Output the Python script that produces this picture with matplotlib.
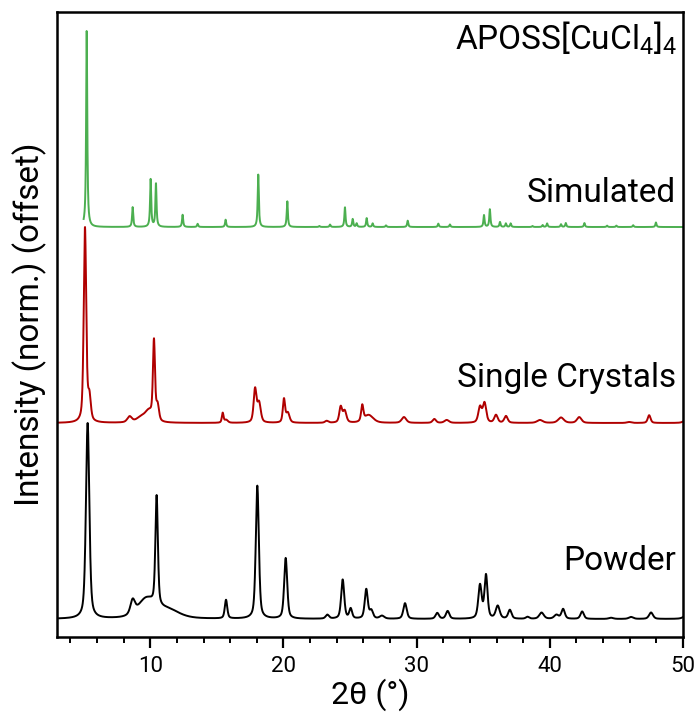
import numpy as np
import matplotlib
matplotlib.use("Agg")
import matplotlib.pyplot as plt
from matplotlib.ticker import MultipleLocator

plt.rcParams['font.family'] = ['Roboto', 'DejaVu Sans']
plt.rcParams['mathtext.default'] = 'regular'

# ---- data: peak tables (2theta, normalized height, FWHM) ----
powder_pos = [5.30, 8.68, 9.7, 10.48, 11.3, 15.69, 18.04, 20.17, 23.3, 24.45, 25.05,
              26.22, 26.6, 27.4, 29.13, 31.55, 32.33, 34.76, 35.21, 36.09, 37.0,
              38.33, 39.38, 40.5, 41.0, 42.43, 44.6, 46.1, 47.6, 50.4]
powder_h = [1.0, 0.07, 0.095, 0.56, 0.045, 0.095, 0.68, 0.31, 0.02, 0.20, 0.05,
            0.15, 0.04, 0.015, 0.08, 0.03, 0.04, 0.17, 0.22, 0.065, 0.045,
            0.01, 0.032, 0.02, 0.05, 0.038, 0.006, 0.01, 0.033, 0.03]
powder_w = [0.30, 0.40, 1.5, 0.22, 2.0, 0.22, 0.27, 0.27, 0.3, 0.27, 0.25,
            0.27, 0.3, 0.4, 0.3, 0.3, 0.3, 0.3, 0.27, 0.35, 0.3,
            0.3, 0.4, 0.4, 0.3, 0.3, 0.4, 0.4, 0.35, 0.6]

single_pos = [5.10, 5.43, 8.45, 9.3, 9.9, 10.28, 10.55, 15.44, 15.7, 17.87, 18.17,
              20.04, 20.33, 23.25, 24.3, 24.6, 25.92, 26.4, 29.05, 31.33, 32.26,
              34.76, 35.1, 35.96, 36.71, 39.26, 40.84, 42.21, 45.96, 47.46, 50.3]
single_h = [1.0, 0.12, 0.03, 0.025, 0.055, 0.40, 0.08, 0.05, 0.015, 0.17, 0.10,
            0.12, 0.05, 0.01, 0.08, 0.06, 0.08, 0.04, 0.03, 0.02, 0.015,
            0.08, 0.10, 0.04, 0.035, 0.015, 0.028, 0.03, 0.005, 0.04, 0.02]
single_w = [0.22, 0.25, 0.4, 0.8, 0.7, 0.18, 0.25, 0.15, 0.3, 0.25, 0.3,
            0.2, 0.3, 0.3, 0.25, 0.3, 0.2, 0.8, 0.4, 0.3, 0.4,
            0.3, 0.3, 0.3, 0.3, 0.5, 0.5, 0.4, 0.4, 0.25, 0.5]

sim_pos = [5.23, 8.68, 10.03, 10.43, 12.43, 13.56, 15.66, 18.11, 20.29, 22.7, 23.5,
           24.62, 25.2, 25.5, 26.25, 26.7, 27.7, 29.33, 31.63, 32.5, 35.06, 35.5,
           36.26, 36.7, 37.06, 38.7, 39.46, 39.8, 40.84, 41.2, 42.6, 44.3, 45.0,
           46.26, 47.97]
sim_h = [1.0, 0.10, 0.24, 0.22, 0.062, 0.016, 0.037, 0.265, 0.13, 0.005, 0.012,
         0.10, 0.04, 0.018, 0.045, 0.018, 0.008, 0.032, 0.017, 0.013, 0.06, 0.09,
         0.025, 0.018, 0.018, 0.005, 0.01, 0.018, 0.014, 0.02, 0.02, 0.007, 0.007,
         0.009, 0.023]
sim_w = [0.10] * len(sim_pos)

labels = ["Powder", "Single Crystals", "Simulated"]
offsets = [0.0, 1.0, 2.0]
colors = ["#000000", "#B00000", "#4CAF50"]
x_start = [3.05, 3.05, 5.0]
x_end = 50.0


def profile(x, pos, h, w, eta):
    y = np.zeros_like(x)
    for p, a, fw in zip(pos, h, w):
        g = np.exp(-4 * np.log(2) * ((x - p) / fw) ** 2)
        l = 1.0 / (1.0 + 4 * ((x - p) / fw) ** 2)
        y += a * (eta * l + (1 - eta) * g)
    return y


fig = plt.figure(figsize=(6.96, 7.19), dpi=100)
ax = fig.add_axes([0.0819, 0.1140, 0.8994, 0.8693])

tables = [(powder_pos, powder_h, powder_w, 0.5),
          (single_pos, single_h, single_w, 0.5),
          (sim_pos, sim_h, sim_w, 0.9)]

for (pos, h, w, eta), off, c, xs in zip(tables, offsets, colors, x_start):
    x = np.linspace(xs, x_end, 4000)
    y = profile(x, pos, h, w, eta)
    y = y / y.max()
    ax.plot(x, y + off, color=c, lw=1.4)

ax.set_xlim(3, 50)
ax.set_ylim(-0.092, 3.097)
ax.set_yticks([])
ax.xaxis.set_major_locator(MultipleLocator(10))
ax.xaxis.set_minor_locator(MultipleLocator(2))
ax.tick_params(axis='x', which='major', length=8, width=1.6, labelsize=16, pad=6)
ax.tick_params(axis='x', which='minor', length=4, width=1.4)
for s in ax.spines.values():
    s.set_linewidth(1.8)

ax.set_xlabel("2θ (°)", fontsize=23, labelpad=1)
ax.set_ylabel("Intensity (norm.) (offset)", fontsize=24, labelpad=7)

ax.text(49.55, 2.903, "APOSS[CuCl$_4$]$_4$", fontsize=24, ha='right', va='baseline')
ax.text(49.47, 2.129, "Simulated", fontsize=24, ha='right', va='baseline')
ax.text(49.47, 1.185, "Single Crystals", fontsize=24, ha='right', va='baseline')
ax.text(49.47, 0.25, "Powder", fontsize=24, ha='right', va='baseline')

fig.savefig("out.png", dpi=100)
